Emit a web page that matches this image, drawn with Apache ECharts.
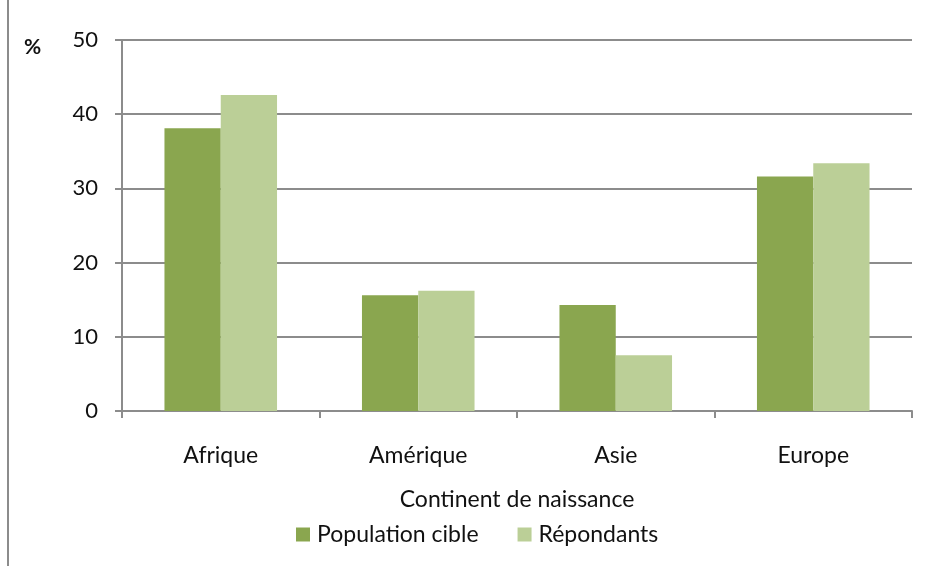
<!DOCTYPE html>
<html>
<head>
<meta charset="utf-8">
<script src="https://cdn.jsdelivr.net/npm/echarts@6/dist/echarts.min.js"></script>
<style>
  html, body { margin: 0; padding: 0; background: #fff; }
  #chart { width: 933px; height: 566px; }
</style>
</head>
<body>
<div id="chart"></div>
<script>
const continents = ["Afrique", "Amérique", "Asie", "Europe"];
const populationCible = [38.1, 15.6, 14.3, 31.6];
const repondants = [42.6, 16.2, 7.5, 33.4];
const yTicks = [0, 10, 20, 30, 40, 50];

const fontFamily = "Lato, 'Open Sans', sans-serif";
const darkGreen = "#8aa64f";
const lightGreen = "#bbcf97";
const gridGray = "#8c8c8c";

const chart = echarts.init(document.getElementById("chart"));
chart.setOption({
  animation: false,
  textStyle: { fontFamily: fontFamily },
  grid: { left: 122, right: 21, top: 40, bottom: 155 },
  legend: {
    bottom: 15,
    left: 291,
    itemWidth: 14,
    itemHeight: 14,
    itemGap: 39,
    icon: "rect",
    textStyle: { fontSize: 23, color: "#111", fontFamily: fontFamily, padding: [0, 0, 0, 2] },
    data: ["Population cible", "Répondants"]
  },
  xAxis: {
    type: "category",
    data: continents,
    name: "Continent de naissance",
    nameLocation: "middle",
    nameGap: 77,
    nameTextStyle: { fontSize: 23, color: "#111", fontFamily: fontFamily },
    axisLine: { lineStyle: { color: gridGray, width: 2 } },
    axisTick: { show: true, length: 7, lineStyle: { color: gridGray, width: 2 } },
    axisLabel: { fontSize: 23, color: "#111", margin: 33 }
  },
  yAxis: {
    type: "value",
    min: yTicks[0],
    max: yTicks[yTicks.length - 1],
    interval: 10,
    name: "%",
    nameLocation: "end",
    nameGap: 0,
    nameTextStyle: { fontSize: 21, fontWeight: "bold", color: "#111", align: "left", padding: [0, 0, -18, -98] },
    axisLine: { show: true, lineStyle: { color: gridGray, width: 2 } },
    axisTick: { show: true, length: 7, lineStyle: { color: gridGray, width: 2 } },
    axisLabel: { fontSize: 22, color: "#111", margin: 24 },
    splitLine: { lineStyle: { color: gridGray, width: 2 } }
  },
  series: [
    {
      name: "Population cible",
      type: "bar",
      data: populationCible,
      barGap: "0%",
      barCategoryGap: "43%",
      itemStyle: { color: darkGreen }
    },
    {
      name: "Répondants",
      type: "bar",
      data: repondants,
      itemStyle: { color: lightGreen }
    }
  ],
  graphic: [
    {
      type: "line",
      shape: { x1: 8, y1: 0, x2: 8, y2: 566 },
      style: { stroke: gridGray, lineWidth: 2 }
    }
  ]
});
</script>
</body>
</html>
